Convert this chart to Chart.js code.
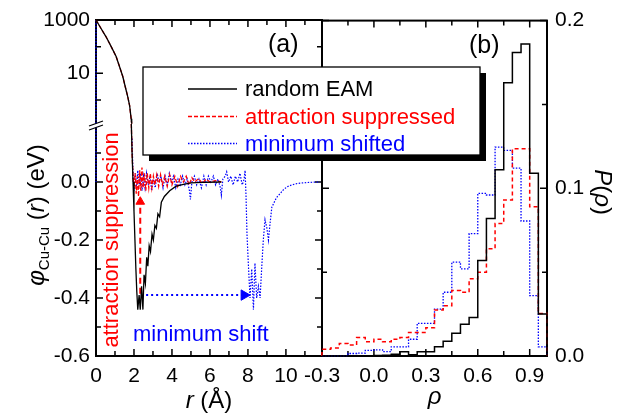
<!DOCTYPE html>
<html>
<head>
<meta charset="utf-8">
<script src="https://cdn.jsdelivr.net/npm/chart.js@4.4.1/dist/chart.umd.min.js"></script>
<style>
  body { margin: 0; background: #fff; }
  #wrap { position: relative; width: 632px; height: 417px; }
  canvas { position: absolute; left: 0; top: 0; }
</style>
</head>
<body>
<div id="wrap">
  <canvas id="chart-a" width="632" height="417"></canvas>
  <canvas id="chart-b" width="632" height="417"></canvas>
</div>
<script>
const FONT = "'Liberation Sans', Arial, sans-serif";

const seriesNames = ['random EAM', 'attraction suppressed', 'minimum shifted'];
const seriesColors = ['#000000', '#ff0000', '#0000ff'];

// ---- panel (a): phi_Cu-Cu(r) ----
// repulsive wall, drawn on the log part above the axis break
const rWall = [0, 0.25, 0.53, 0.8, 1.06, 1.25, 1.41, 1.55, 1.67, 1.77, 1.85, 1.88];
const phiWall = [1000, 500, 234, 100, 42.7, 17, 7.6, 2.95, 1.35, 0.62, 0.2, 0.13];

// linear part below the break
const rBlack = [1.86, 1.9, 1.95, 2.0, 2.05, 2.1, 2.15, 2.2, 2.27, 2.33, 2.4, 2.47, 2.53, 2.6, 2.67, 2.73, 2.8, 2.87, 2.95, 3.02, 3.1, 3.18, 3.26, 3.35, 3.44, 3.6, 3.88, 4.2, 4.6, 5.0, 5.6, 6.6];
const phiBlack = [0.2, 0.1, 0.0, -0.1, -0.2, -0.3, -0.38, -0.44, -0.39, -0.44, -0.36, -0.44, -0.32, -0.35, -0.26, -0.29, -0.22, -0.24, -0.18, -0.2, -0.15, -0.16, -0.11, -0.12, -0.07, -0.05, -0.03, -0.015, -0.008, -0.003, -0.001, 0];

const rRed = [1.86, 1.9, 1.95, 2.0, 2.06, 2.12, 2.18, 2.24, 2.3, 2.36, 2.42, 2.48, 2.55, 2.62, 2.7, 2.78, 2.86, 2.94, 3.02, 3.1, 3.2, 3.3, 3.4, 3.5, 3.62, 3.75, 3.88, 4.0, 4.15, 4.3, 4.45, 4.6, 4.75, 4.9, 5.05, 5.2, 5.4, 5.6, 5.8, 6.0, 6.3, 6.6];
const phiRed = [0.2, 0.1, 0.02, -0.02, 0.03, -0.04, 0.02, -0.05, 0.04, -0.03, 0.05, -0.02, 0.03, -0.03, 0.03, -0.02, 0.03, -0.02, 0.02, -0.01, 0.025, -0.015, 0.025, -0.01, 0.02, -0.015, 0.025, -0.01, 0.02, -0.015, 0.02, 0.0, 0.02, -0.01, 0.015, 0.0, 0.012, -0.005, 0.01, 0.0, 0.005, 0.0];

const rBlue = [1.9, 1.95, 2.0, 2.07, 2.14, 2.2, 2.28, 2.35, 2.42, 2.5, 2.58, 2.66, 2.75, 2.84, 2.93, 3.02, 3.12, 3.22, 3.32, 3.42, 3.53, 3.64, 3.75, 3.86, 3.97, 4.08, 4.2, 4.32, 4.44, 4.56, 4.68, 4.8, 4.92, 4.97, 5.05, 5.18, 5.3, 5.42, 5.55, 5.68, 5.8, 5.92, 6.05, 6.18, 6.3, 6.42, 6.55, 6.6, 6.68, 6.8, 6.88, 6.98, 7.1, 7.22, 7.34, 7.46, 7.58, 7.7, 7.8, 7.85, 7.9, 7.95, 8.02, 8.11, 8.2, 8.29, 8.37, 8.46, 8.55, 8.64, 8.73, 8.81, 8.9, 9.0, 9.08, 9.17, 9.26, 9.35, 9.43, 9.55, 9.7, 9.85, 10.05, 10.3, 10.6, 10.9, 11.3, 11.8];
const phiBlue = [0.15, 0.02, -0.03, 0.03, -0.02, 0.04, -0.01, 0.03, -0.03, 0.02, -0.02, 0.03, -0.01, 0.02, -0.03, 0.01, -0.02, 0.03, 0.0, 0.02, -0.02, 0.02, -0.01, 0.03, 0.0, 0.02, -0.02, 0.01, -0.01, 0.02, -0.01, 0.01, -0.03, -0.06, 0.0, 0.02, -0.01, 0.01, -0.02, 0.02, -0.01, 0.02, 0.0, 0.02, -0.01, 0.01, -0.02, -0.045, 0.01, 0.02, 0.035, 0.0, 0.02, -0.01, 0.02, 0.0, 0.03, -0.01, 0.01, 0.04, -0.05, -0.18, -0.28, -0.4, -0.3, -0.44, -0.28, -0.4, -0.36, -0.4, -0.29, -0.2, -0.13, -0.16, -0.2, -0.14, -0.086, -0.075, -0.063, -0.05, -0.04, -0.028, -0.017, -0.01, -0.005, -0.003, -0.001, 0];

// arrows
const rSuppArrow = [2.33, 2.33];
const phiSuppArrow = [-0.385, -0.08];
const rShiftArrow = [2.64, 7.75];
const phiShiftArrow = [-0.39, -0.39];

const rTicks = [0, 1, 2, 3, 4, 5, 6, 7, 8, 9, 10, 11];
const rTickLabels = [0, 2, 4, 6, 8, 10];
const phiLogTicks = [1, 10, 100, 1000];
const phiLogLabels = [10, 1000];
const phiLinTicks = [-0.6, -0.5, -0.4, -0.3, -0.2, -0.1, 0, 0.1, 0.2];
const phiLinLabels = [-0.6, -0.4, -0.2, 0];

// ---- panel (b): P(rho) histograms, bin starts ----
const rhoBins = [-0.3, -0.25, -0.2, -0.15, -0.1, -0.05, 0.0, 0.05, 0.1, 0.15, 0.2, 0.25, 0.3, 0.35, 0.4, 0.45, 0.5, 0.55, 0.6, 0.65, 0.7, 0.75, 0.8, 0.85, 0.9, 0.95];
const rhoEnd = 1.0;
const pBlack = [0, 0, 0, 0, 0, 0, 0.0003, 0.0005, 0.001, 0.0026, 0.0008, 0.0026, 0.0026, 0.0055, 0.0088, 0.0135, 0.019, 0.023, 0.057, 0.082, 0.111, 0.163, 0.181, 0.186, 0.109, 0.025];
const pRed = [0.004, 0.0048, 0.0075, 0.0065, 0.011, 0.0085, 0.010, 0.0085, 0.010, 0.011, 0.014, 0.014, 0.0168, 0.0275, 0.030, 0.039, 0.038, 0.046, 0.050, 0.064, 0.079, 0.093, 0.1236, 0.1236, 0.089, 0.0254];
const pBlue = [0, 0, 0, 0.0015, 0.0017, 0.0033, 0.0036, 0.0026, 0.0055, 0.0055, 0.010, 0.0195, 0.0195, 0.028, 0.038, 0.056, 0.052, 0.073, 0.097, 0.096, 0.1246, 0.1226, 0.112, 0.0805, 0.036, 0.0055];

const rhoTicks = [-0.3, -0.15, 0, 0.15, 0.3, 0.45, 0.6, 0.75, 0.9];
const rhoTickLabels = [-0.3, 0, 0.3, 0.6, 0.9];
const pTicks = [0, 0.05, 0.1, 0.15, 0.2];
const pTickLabels = [0, 0.1, 0.2];

const pts = (xs, ys) => xs.map((x, i) => ({ x, y: ys[i] }));
function histo(vals) {
  const p = [{ x: rhoBins[0], y: 0 }].concat(pts(rhoBins, vals));
  p.push({ x: rhoEnd, y: vals[vals.length - 1] });
  p.push({ x: rhoEnd, y: 0 });
  return p;
}
const has = (list, v) => list.some(l => Math.abs(l - v) < 1e-9);

const lineStyle = [
  { borderColor: seriesColors[0], borderWidth: 1.3, borderDash: [] },
  { borderColor: seriesColors[1], borderWidth: 1.3, borderDash: [4, 2] },
  { borderColor: seriesColors[2], borderWidth: 1.2, borderDash: [1.5, 1.5] }
];

function line(data, style, yAxisID, extra) {
  return Object.assign({ data, showLine: true, pointRadius: 0, fill: false, clip: false, yAxisID }, style, extra || {});
}

// frame plus inward ticks on all four sides
const frameTicks = {
  id: 'frameTicks',
  beforeDatasetsDraw(chart) {
    const { ctx, chartArea: a } = chart;
    ctx.save();
    ctx.strokeStyle = '#000';
    ctx.lineWidth = 2;
    ctx.strokeRect(a.left, a.top, a.width, a.height);
    ctx.lineWidth = 1.5;
    Object.values(chart.scales).forEach(s => {
      s.ticks.forEach(t => {
        const len = t.label !== '' ? 7 : 5;
        const p = s.getPixelForValue(t.value);
        ctx.beginPath();
        if (s.isHorizontal()) {
          ctx.moveTo(p, a.bottom); ctx.lineTo(p, a.bottom - len);
          ctx.moveTo(p, a.top); ctx.lineTo(p, a.top + len);
        } else {
          ctx.moveTo(a.left, p); ctx.lineTo(a.left + len, p);
          ctx.moveTo(a.right, p); ctx.lineTo(a.right - len, p);
        }
        ctx.stroke();
      });
    });
    ctx.restore();
  }
};

function drawRich(ctx, parts, x, y, angle) {
  ctx.save();
  ctx.translate(x, y);
  ctx.rotate(angle);
  ctx.textBaseline = 'alphabetic';
  let w = 0;
  parts.forEach(p => { ctx.font = p.font; w += ctx.measureText(p.text).width; });
  let cx = -w / 2;
  parts.forEach(p => {
    ctx.font = p.font;
    ctx.fillStyle = p.color || '#000';
    ctx.fillText(p.text, cx, p.dy || 0);
    cx += ctx.measureText(p.text).width;
  });
  ctx.restore();
}

const textsA = {
  id: 'textsA',
  afterDraw(chart) {
    const { ctx, chartArea: a } = chart;
    const yb = chart.scales.yLin.top;
    ctx.save();
    // axis break marks
    ctx.fillStyle = '#fff';
    ctx.beginPath();
    ctx.moveTo(a.left - 7, yb + 2); ctx.lineTo(a.left + 7, yb - 3);
    ctx.lineTo(a.left + 7, yb + 1); ctx.lineTo(a.left - 7, yb + 6);
    ctx.closePath(); ctx.fill();
    ctx.strokeStyle = '#000'; ctx.lineWidth = 1.3;
    ctx.beginPath();
    ctx.moveTo(a.left - 7, yb + 2); ctx.lineTo(a.left + 7, yb - 3);
    ctx.moveTo(a.left - 7, yb + 6); ctx.lineTo(a.left + 7, yb + 1);
    ctx.stroke();

    ctx.fillStyle = '#000';
    ctx.font = `25px ${FONT}`;
    ctx.textBaseline = 'alphabetic';
    ctx.fillText('(a)', 268, 52);

    ctx.fillStyle = '#0000ff';
    ctx.font = `22px ${FONT}`;
    ctx.fillText('minimum shift', 133, 341);

    ctx.save();
    ctx.translate(112, 240);
    ctx.rotate(-Math.PI / 2);
    ctx.fillStyle = '#ff0000';
    ctx.textAlign = 'center';
    ctx.textBaseline = 'middle';
    ctx.font = `22px ${FONT}`;
    ctx.fillText('attraction suppression', 0, 0);
    ctx.restore();
    ctx.restore();

    drawRich(ctx, [
      { text: 'r', font: `italic 24px ${FONT}` },
      { text: ' (Å)', font: `24px ${FONT}` }
    ], (a.left + a.right) / 2, 408, 0);

    drawRich(ctx, [
      { text: 'φ', font: `italic 24px ${FONT}`, dy: 8 },
      { text: 'Cu-Cu', font: `15px ${FONT}`, dy: 13 },
      { text: ' (', font: `24px ${FONT}`, dy: 8 },
      { text: 'r', font: `italic 24px ${FONT}`, dy: 8 },
      { text: ') (eV)', font: `24px ${FONT}`, dy: 8 }
    ], 36, 215, -Math.PI / 2);
  }
};

const textsB = {
  id: 'textsB',
  afterDraw(chart) {
    const { ctx, chartArea: a } = chart;
    ctx.save();
    ctx.fillStyle = '#000';
    ctx.font = `25px ${FONT}`;
    ctx.textBaseline = 'alphabetic';
    ctx.fillText('(b)', 469, 53);
    ctx.restore();

    drawRich(ctx, [{ text: 'ρ', font: `italic 24px ${FONT}` }], (a.left + a.right) / 2, 404, 0);
    drawRich(ctx, [
      { text: 'P', font: `italic 24px ${FONT}`, dy: 8 },
      { text: '(', font: `24px ${FONT}`, dy: 8 },
      { text: 'ρ', font: `italic 24px ${FONT}`, dy: 8 },
      { text: ')', font: `24px ${FONT}`, dy: 8 }
    ], 603, 192, Math.PI / 2);

    // legend box with drop shadow
    const L = 143, T = 67, R = 480, B = 155;
    ctx.save();
    ctx.fillStyle = '#000';
    ctx.fillRect(L + 6, T + 6, R - L, B - T);
    ctx.fillStyle = '#fff';
    ctx.fillRect(L, T, R - L, B - T);
    ctx.strokeStyle = '#000';
    ctx.lineWidth = 1.3;
    ctx.strokeRect(L, T, R - L, B - T);
    const rows = [89, 116.5, 143.5];
    seriesNames.forEach((name, i) => {
      const st = lineStyle[i];
      ctx.strokeStyle = st.borderColor;
      ctx.lineWidth = 1.5;
      ctx.setLineDash(st.borderDash);
      ctx.beginPath();
      ctx.moveTo(188, rows[i]); ctx.lineTo(237, rows[i]);
      ctx.stroke();
      ctx.setLineDash([]);
      ctx.fillStyle = seriesColors[i];
      ctx.font = `22px ${FONT}`;
      ctx.textBaseline = 'middle';
      ctx.fillText(name, 245, rows[i] + 1);
    });
    ctx.restore();
  }
};

const tickFont = { family: FONT, size: 21 };
const noGrid = { display: false, drawTicks: false };
const noBorder = { display: false };

new Chart(document.getElementById('chart-a'), {
  type: 'scatter',
  data: {
    datasets: [
      line(pts(rWall, phiWall), lineStyle[0], 'yLog'),
      line(pts(rBlack, phiBlack), lineStyle[0], 'yLin'),
      line(pts(rWall, phiWall), lineStyle[1], 'yLog'),
      line(pts(rRed, phiRed), lineStyle[1], 'yLin'),
      line(pts([0, 0], [1000, 0.13]), lineStyle[2], 'yLog'),
      line(pts([0, 0], [0.2, 0]), lineStyle[2], 'yLin'),
      line(pts(rBlue, phiBlue), lineStyle[2], 'yLin'),
      line(pts(rSuppArrow, phiSuppArrow), { borderColor: '#ff0000', borderWidth: 2, borderDash: [6, 4] }, 'yLin'),
      { data: pts([rSuppArrow[1]], [-0.068]), yAxisID: 'yLin', clip: false, pointStyle: 'triangle', pointRadius: 5, pointRotation: 0, backgroundColor: '#ff0000', borderColor: '#ff0000', borderWidth: 1 },
      line(pts(rShiftArrow, phiShiftArrow), { borderColor: '#0000ff', borderWidth: 2, borderDash: [2, 3] }, 'yLin'),
      { data: pts([7.8], [-0.39]), yAxisID: 'yLin', clip: false, pointStyle: 'triangle', pointRadius: 6, pointRotation: 90, backgroundColor: '#0000ff', borderColor: '#0000ff', borderWidth: 1 }
    ]
  },
  options: {
    responsive: false,
    animation: false,
    devicePixelRatio: 1,
    layout: { padding: { left: 0, top: 20, right: 310, bottom: 0 } },
    plugins: { legend: { display: false }, tooltip: { enabled: false } },
    scales: {
      x: {
        type: 'linear', min: 0, max: 11.9,
        afterFit: s => { s.height = 61; },
        afterBuildTicks: s => { s.ticks = rTicks.map(v => ({ value: v })); },
        ticks: { font: tickFont, color: '#000', padding: 8, maxRotation: 0, autoSkip: false,
          callback: v => has(rTickLabels, v) ? String(v) : '' },
        grid: noGrid, border: noBorder
      },
      yLog: {
        type: 'logarithmic', position: 'left', stack: 'a', stackWeight: 104, weight: 1,
        min: 0.126, max: 1000,
        afterFit: s => { s.width = 96; },
        afterBuildTicks: s => { s.ticks = phiLogTicks.map(v => ({ value: v })); },
        ticks: { font: tickFont, color: '#000', padding: 6, autoSkip: false,
          callback: v => has(phiLogLabels, v) ? String(v) : '' },
        grid: noGrid, border: noBorder
      },
      yLin: {
        type: 'linear', position: 'left', stack: 'a', stackWeight: 232, weight: 0,
        min: -0.6, max: 0.2,
        afterFit: s => { s.width = 96; },
        afterBuildTicks: s => { s.ticks = phiLinTicks.map(v => ({ value: v })); },
        ticks: { font: tickFont, color: '#000', padding: 6, autoSkip: false,
          callback: v => has(phiLinLabels, v) ? v.toFixed(1) : '' },
        grid: noGrid, border: noBorder
      }
    }
  },
  plugins: [frameTicks, textsA]
});

new Chart(document.getElementById('chart-b'), {
  type: 'scatter',
  data: {
    datasets: [
      line(histo(pBlack), Object.assign({}, lineStyle[0], { borderWidth: 1.5 }), 'y', { stepped: 'before' }),
      line(histo(pRed), Object.assign({}, lineStyle[1], { borderWidth: 1.5, borderDash: [4, 3] }), 'y', { stepped: 'before' }),
      line(histo(pBlue), Object.assign({}, lineStyle[2], { borderWidth: 1.3 }), 'y', { stepped: 'before' })
    ]
  },
  options: {
    responsive: false,
    animation: false,
    devicePixelRatio: 1,
    layout: { padding: { left: 322, top: 20, right: 0, bottom: 0 } },
    plugins: { legend: { display: false }, tooltip: { enabled: false } },
    scales: {
      x: {
        type: 'linear', min: -0.3, max: 1.0,
        afterFit: s => { s.height = 61; },
        afterBuildTicks: s => { s.ticks = rhoTicks.map(v => ({ value: v })); },
        ticks: { font: tickFont, color: '#000', padding: 8, maxRotation: 0, autoSkip: false,
          callback: v => has(rhoTickLabels, v) ? v.toFixed(1) : '' },
        grid: noGrid, border: noBorder
      },
      y: {
        type: 'linear', position: 'right', min: 0, max: 0.2,
        afterFit: s => { s.width = 85; },
        afterBuildTicks: s => { s.ticks = pTicks.map(v => ({ value: v })); },
        ticks: { font: tickFont, color: '#000', padding: 8, autoSkip: false,
          callback: v => has(pTickLabels, v) ? v.toFixed(1) : '' },
        grid: noGrid, border: noBorder
      }
    }
  },
  plugins: [frameTicks, textsB]
});
</script>
</body>
</html>
